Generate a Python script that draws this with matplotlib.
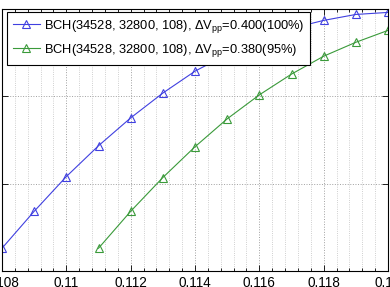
import matplotlib
matplotlib.use("Agg")
import matplotlib.pyplot as plt
from matplotlib.ticker import MultipleLocator, NullLocator, FixedLocator

plt.rcParams['font.family'] = ['Liberation Sans', 'DejaVu Sans']
plt.rcParams['mathtext.fontset'] = 'custom'
plt.rcParams['mathtext.rm'] = 'Liberation Sans'
plt.rcParams['mathtext.it'] = 'Liberation Sans'

# data
x_100 = [0.108, 0.109, 0.110, 0.111, 0.112, 0.113, 0.114,
         0.115, 0.116, 0.117, 0.118, 0.119, 0.120]
y_100 = [1.82e-15, 4.81e-15, 1.20e-14, 2.70e-14, 5.62e-14, 1.08e-13, 1.92e-13,
         3.00e-13, 4.33e-13, 5.93e-13, 7.31e-13, 8.55e-13, 9.02e-13]
x_95 = [0.111, 0.112, 0.113, 0.114, 0.115, 0.116, 0.117, 0.118, 0.119, 0.120]
y_95 = [1.82e-15, 4.81e-15, 1.17e-14, 2.63e-14, 5.48e-14, 1.03e-13, 1.78e-13,
        2.85e-13, 4.11e-13, 5.62e-13]
labels = [r'BCH(34528, 32800, 108), $\Delta\mathrm{V}_{\mathrm{pp}}$=0.400(100%)',
          r'BCH(34528, 32800, 108), $\Delta\mathrm{V}_{\mathrm{pp}}$=0.380(95%)']
xticks = [0.108, 0.110, 0.112, 0.114, 0.116, 0.118, 0.120]
xticklabels = ['0.108', '0.11', '0.112', '0.114', '0.116', '0.118', '0.12']

fig = plt.figure(figsize=(3.9, 2.87), dpi=100)
ax = fig.add_axes([2 / 390, 16 / 287, 386 / 390, 262.5 / 287])

ax.plot(x_100, y_100, '-^', color='#4040e0', lw=0.8, ms=5.5,
        mfc='none', mew=0.8, label=labels[0])
ax.plot(x_95, y_95, '-^', color='#3a9a3a', lw=0.8, ms=5.5,
        mfc='none', mew=0.8, label=labels[1])

ax.set_yscale('log')
ax.set_ylim(1e-15, 1e-12)
ax.set_xlim(0.108, 0.120)
ax.yaxis.set_minor_locator(NullLocator())
ax.xaxis.set_major_locator(FixedLocator(xticks))
ax.set_xticklabels(xticklabels)
ax.xaxis.set_minor_locator(MultipleLocator(0.0004))

ax.tick_params(which='both', direction='in', top=True, right=True,
               labelsize=9.8, width=0.6)
ax.tick_params(which='major', length=4, pad=3.5)
ax.tick_params(which='minor', length=2)
ax.grid(True, which='major', ls=':', color='#a0a0a0', lw=0.7)
ax.grid(True, which='minor', axis='x', ls=':', color='#c0c0c0', lw=0.6)
for s in ax.spines.values():
    s.set_linewidth(0.8)

leg = ax.legend(loc='upper left', bbox_to_anchor=(7 / 390, 1 - 12 / 287),
                bbox_transform=fig.transFigure, borderaxespad=0,
                fontsize=9.3, fancybox=False, framealpha=1, edgecolor='black',
                handlelength=2.1, handletextpad=0.3, labelspacing=0.55,
                borderpad=0.45)
leg.get_frame().set_linewidth(0.8)

fig.savefig('out.png', dpi=100)
